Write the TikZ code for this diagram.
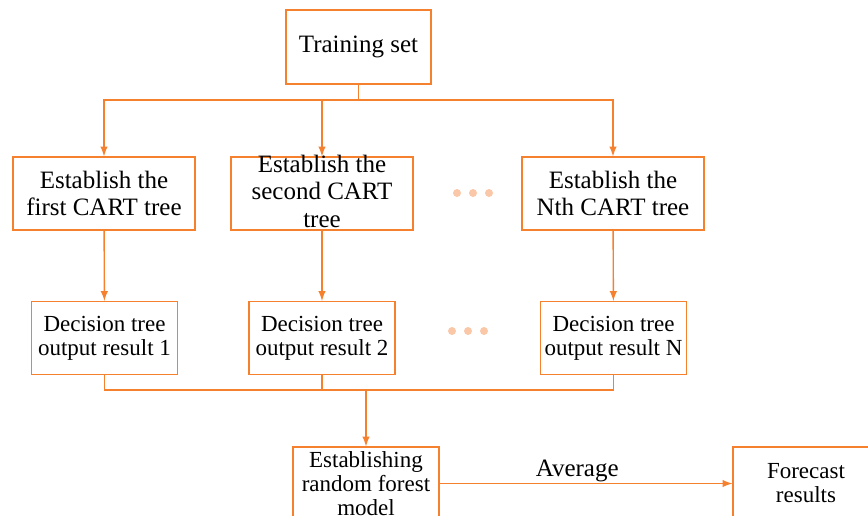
\documentclass[tikz,border=0pt]{standalone}
\usepackage{fontspec}
\setmainfont{Liberation Serif}
\usepackage{tikz}
\usetikzlibrary{arrows}
\usetikzlibrary{positioning}

\definecolor{rforange}{RGB}{245,128,46}
\definecolor{rfpeach}{RGB}{250,200,168}

\tikzset{
  bigbox/.style={rectangle, draw=rforange, line width=0.6pt, align=center,
    inner xsep=1pt, inner ysep=0pt, font=\fontsize{12.5}{13.75}\selectfont},
  smallbox/.style={rectangle, draw=rforange, line width=0.6pt, align=center,
    inner xsep=1pt, inner ysep=0pt, minimum width=73pt, minimum height=36.5pt,
    font=\fontsize{11.5}{12}\selectfont},
  link/.style={draw=rforange, line width=0.7pt},
  arr/.style={-latex, draw=rforange, line width=0.7pt}
}

\begin{document}
\begin{tikzpicture}[x=0.5pt, y=-0.5pt]
\useasboundingbox (0,0) rectangle (868,515);
\clip (0,0) rectangle (868,515);

\node [bigbox, minimum width=72.5pt, minimum height=37pt] (train) at (358.5, 47) {Training set};

\node [bigbox, minimum width=91pt, minimum height=36.5pt] (est1) at (104, 193.5) {Establish the\\first CART tree};
\node [bigbox, minimum width=91pt, minimum height=36.5pt, text height=35pt, text depth=1.5pt] (est2) at (322, 193.5) {Establish the\\second CART\\tree};
\node [bigbox, minimum width=91pt, minimum height=36.5pt] (estN) at (613, 193.5) {Establish the\\Nth CART tree};

\node [smallbox] (dec1) at (104.5, 338) {Decision tree\\output result 1};
\node [smallbox] (dec2) at (322, 338) {Decision tree\\output result 2};
\node [smallbox] (decN) at (613.5, 338) {Decision tree\\output result N};

\node [smallbox] (model) at (366, 483.5) {Establishing\\random forest\\model};
\node [smallbox] (forecast) at (806, 483.5) {Forecast\\results};

\foreach \x in {457, 473, 489}
  \fill [rfpeach] (\x, 193) circle (4);
\foreach \x in {452, 468, 484}
  \fill [rfpeach] (\x, 331) circle (4);

\coordinate (split) at (358.5, 100);
\coordinate (join) at (366, 390);

\draw [link] (train) -- (split);
\draw [arr] (split) -| (est1.north);
\draw [arr] (split) -| (est2.north);
\draw [arr] (split) -| (estN.north);

\draw [arr] (est1) -- (dec1);
\draw [arr] (est2) -- (dec2);
\draw [arr] (estN) -- (decN);

\draw [link] (dec1.south) |- (join);
\draw [link] (decN.south) |- (join);
\draw [link] (dec2.south) -- (dec2.south |- join);
\draw [arr] (join) -- (model.north);

\draw [arr] (model) -- node [above, pos=0.47, inner sep=0.5pt, font=\fontsize{12.5}{13.75}\selectfont] (avg) {Average} (forecast);
\end{tikzpicture}
\end{document}
